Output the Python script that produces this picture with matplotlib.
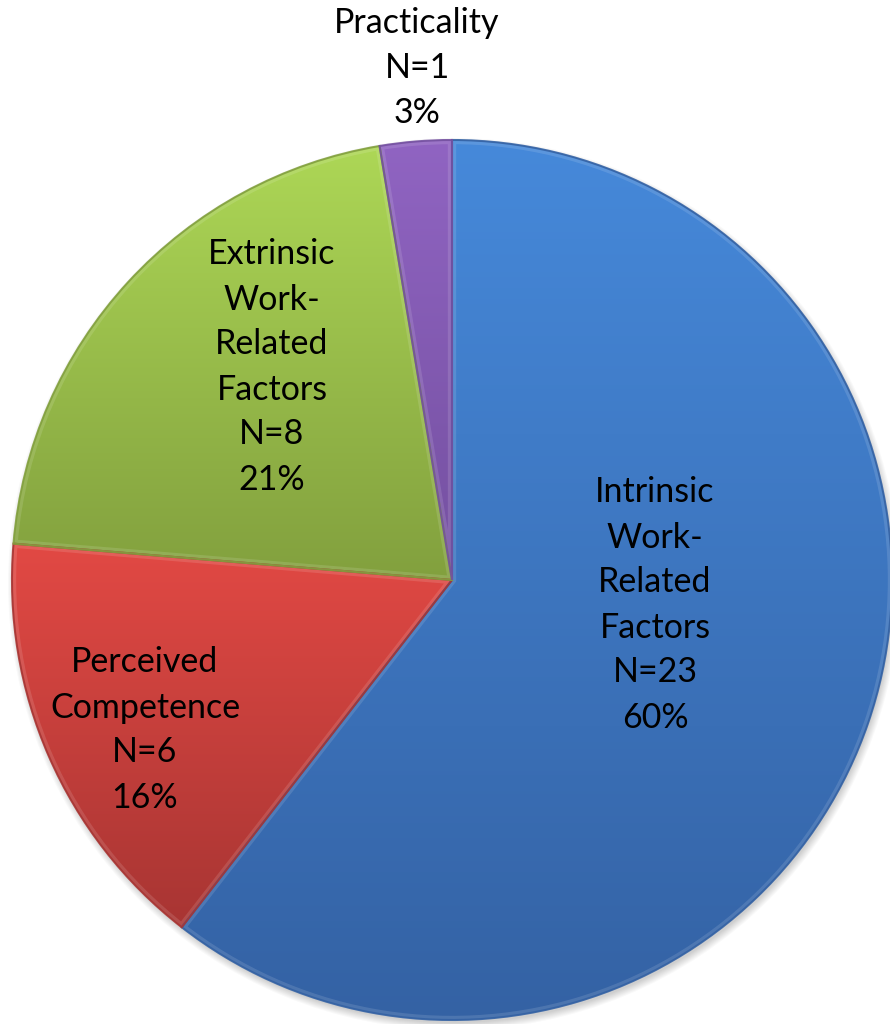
import numpy as np
import matplotlib
matplotlib.use("Agg")
import matplotlib.pyplot as plt
from matplotlib.colors import to_rgb
from matplotlib.patches import Circle, Wedge

# Survey responses by category
categories = ["Intrinsic\nWork-\nRelated\nFactors", "Perceived\nCompetence",
              "Extrinsic\nWork-\nRelated\nFactors", "Practicality"]
counts = [23, 6, 8, 1]
percent_labels = [60, 16, 21, 3]

# Top (light) and bottom (dark) shades for each wedge
top_colors = ["#4689DA", "#E24944", "#ADD756", "#9064C2"]
bottom_colors = ["#3462A4", "#A83533", "#82A03E", "#7450A0"]

W, H = 890, 1024
fig = plt.figure(figsize=(W / 100, H / 100), dpi=100)
ax = fig.add_axes([0, 0, 1, 1])

cx, cy, r = 452, 444, 440

# soft drop shadow beneath the pie
for k in range(8):
    ax.add_patch(Circle((cx + 2, cy - 4), r + 6 - k, facecolor="#000000",
                        alpha=0.025, edgecolor="none", zorder=0))

wedges, _ = ax.pie(counts, startangle=90, counterclock=False,
                   center=(cx, cy), radius=r,
                   wedgeprops=dict(linewidth=0, edgecolor="none"))

def vertical_gradient(c_top, c_bottom, n=256):
    t = np.linspace(0, 1, n)[:, None]
    a = np.array(to_rgb(c_top))
    b = np.array(to_rgb(c_bottom))
    return (a * (1 - t) + b * t)[:, None, :].repeat(2, axis=1)

for w, ct, cb in zip(wedges, top_colors, bottom_colors):
    w.set_facecolor(cb)
    ext = w.get_path().get_extents()
    img = ax.imshow(vertical_gradient(ct, cb),
                    extent=(ext.x0, ext.x1, ext.y0, ext.y1),
                    origin="upper", aspect="auto", zorder=1,
                    interpolation="bilinear")
    img.set_clip_path(w)
    # inner bevel highlight
    hl = Wedge((cx, cy), r, w.theta1, w.theta2, facecolor="none",
               edgecolor="white", linewidth=6, alpha=0.12, zorder=2)
    ax.add_patch(hl)
    hl.set_clip_path(w)
    # thin darker rim
    rim = Wedge((cx, cy), r, w.theta1, w.theta2, facecolor="none",
                edgecolor=cb, linewidth=1.5, alpha=0.9, zorder=3)
    ax.add_patch(rim)

label_pos = [(655, H - 605), (145, H - 730), (272, H - 367), (417, H - 68)]
for name, n, p, (x, y) in zip(categories, counts, percent_labels, label_pos):
    ax.text(x, y, f"{name}\nN={n}\n{p}%", ha="center", va="center",
            fontsize=24.5, family="Lato", linespacing=1.5, color="black",
            zorder=5)

ax.set_xlim(0, W)
ax.set_ylim(0, H)
ax.set_aspect("equal")
ax.axis("off")
fig.savefig("out.png", dpi=100, facecolor="white")
